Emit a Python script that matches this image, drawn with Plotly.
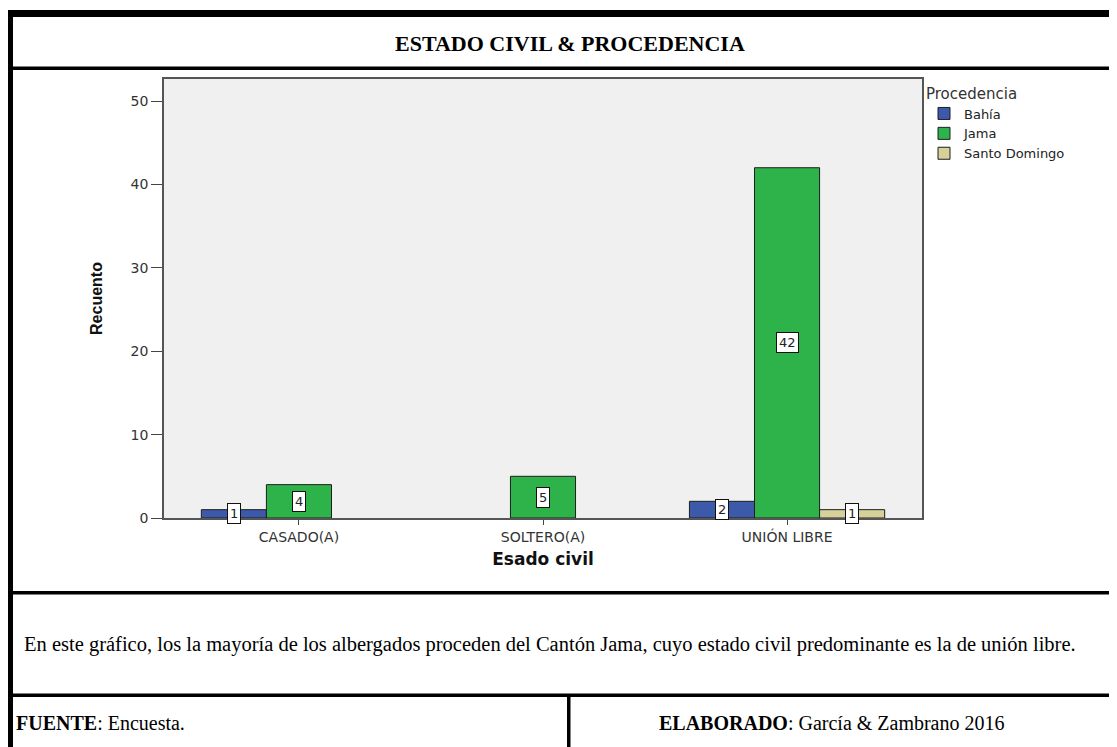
import plotly.graph_objects as go

# Datos del gráfico
categorias = ["CASADO(A)", "SOLTERO(A)", "UNIÓN LIBRE"]
bahia = [1, None, 2]
jama = [4, 5, 42]
santo_domingo = [None, None, 1]

series = [("Bahía", bahia, "#3d59a9"),
          ("Jama", jama, "#2eb34b"),
          ("Santo Domingo", santo_domingo, "#d6d09b")]

# La página tiene 8 px de margen en el body: todo se mide en px de la captura
OFF = 8
W, H = 1117 - OFF, 747 - OFF
L, T = 164 - OFF, 79 - OFF
PW, PH = 922 - 164, 518 - 79
R, B = W - L - PW, H - T - PH
BARGAP = 0.2


def px_x(p):
    return (p - OFF - L) / PW


def px_y(p):
    return (T + PH - (p - OFF)) / PH


fig = go.Figure()
for nombre, valores, color in series:
    fig.add_trace(go.Bar(x=categorias, y=valores, name=nombre,
                         marker=dict(color=color, line=dict(color="#1e1e1e", width=1))))

# Etiquetas con recuadro blanco en el centro de cada barra
ancho = (1 - BARGAP) / len(series)
anotaciones = []
for j, (nombre, valores, color) in enumerate(series):
    for i, v in enumerate(valores):
        if v is None:
            continue
        anotaciones.append(dict(x=i + (j - 1) * ancho, y=v / 2, xref="x", yref="y",
                                text=str(v), showarrow=False, bgcolor="white",
                                bordercolor="#111", borderwidth=1, borderpad=2,
                                font=dict(family="DejaVu Sans", size=13, color="#222")))

serif = "Liberation Serif, Times New Roman, serif"
textos = [
    dict(x=px_x(570), y=px_y(43), text="<b>ESTADO CIVIL & PROCEDENCIA</b>",
         font=dict(family=serif, size=22, color="black")),
    dict(x=px_x(22), y=px_y(644), xanchor="left",
         text="En este gráfico, los la mayoría de los albergados proceden del Cantón Jama, "
              "cuyo estado civil predominante es la de unión libre.",
         font=dict(family=serif, size=20.5, color="black")),
    dict(x=px_x(14), y=px_y(723), xanchor="left", text="<b>FUENTE</b>: Encuesta.",
         font=dict(family=serif, size=20, color="black")),
    dict(x=px_x(657), y=px_y(723), xanchor="left",
         text="<b>ELABORADO</b>: García & Zambrano 2016",
         font=dict(family=serif, size=20, color="black")),
]
for a in textos:
    a.update(xref="paper", yref="paper", showarrow=False, yanchor="middle")
anotaciones += textos

# Marco negro del documento
marcos = [(6, 1117, 10, 17), (6, 13, 10, 747), (13, 1117, 66.5, 70),
          (13, 1117, 591, 594.5), (13, 1117, 693.5, 697), (567, 570.5, 697, 747)]
shapes = [dict(type="rect", xref="paper", yref="paper",
               x0=px_x(x0), x1=px_x(x1), y0=px_y(y1), y1=px_y(y0),
               fillcolor="black", line=dict(width=0))
          for x0, x1, y0, y1 in marcos]

fig.update_layout(
    width=W, height=H,
    margin=dict(l=L, r=R, t=T, b=B, autoexpand=False),
    paper_bgcolor="white", plot_bgcolor="#f0f0f0",
    barmode="group", bargap=BARGAP, bargroupgap=0,
    font=dict(family="DejaVu Sans", color="#333"),
    annotations=anotaciones, shapes=shapes,
    legend=dict(x=px_x(924), y=px_y(79), xanchor="left", yanchor="top",
                title=dict(text="Procedencia", font=dict(size=15, color="#333")),
                font=dict(size=13, color="#222"), bgcolor="rgba(0,0,0,0)",
                tracegroupgap=0, itemwidth=30),
    xaxis=dict(range=[-0.553, 2.553], showline=True, linecolor="#555", linewidth=1.5,
               mirror=True, ticks="outside", ticklen=5, tickcolor="#444",
               tickfont=dict(size=14, color="#333"), showgrid=False, automargin=False,
               title=dict(text="<b>Esado civil</b>", standoff=10,
                          font=dict(size=17, color="#111"))),
    yaxis=dict(range=[0, 52.64], tickvals=[0, 10, 20, 30, 40, 50], showline=True,
               linecolor="#555", linewidth=1.5, mirror=True, ticks="outside",
               ticklen=11, tickcolor="#444", tickfont=dict(size=14, color="#333"),
               showgrid=False, zeroline=False, automargin=False,
               title=dict(text="<b>Recuento</b>", standoff=24,
                          font=dict(family="Liberation Sans Narrow, Liberation Sans, sans-serif",
                                    size=16, color="#111"))),
)

fig.write_html("out.html")
